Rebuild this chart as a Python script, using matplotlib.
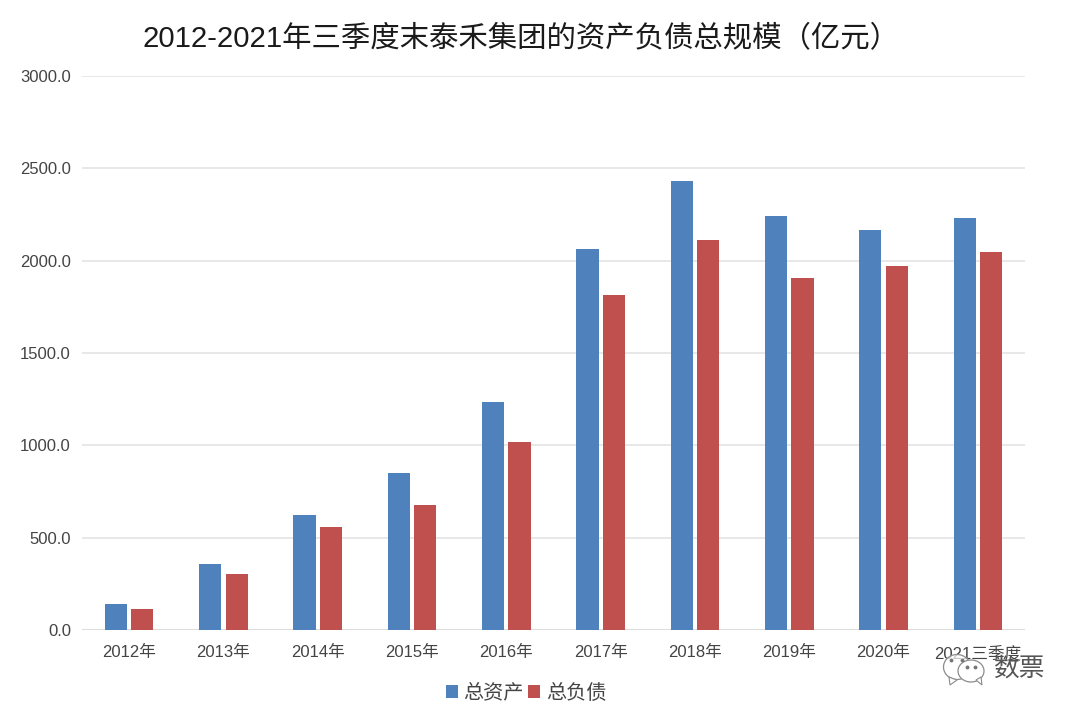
import numpy as np
import matplotlib
matplotlib.use("Agg")
import matplotlib.pyplot as plt
from matplotlib.patches import Ellipse, Polygon

plt.rcParams["font.family"] = ["Liberation Sans", "Noto Sans CJK SC", "DejaVu Sans"]

years = ["2012年", "2013年", "2014年", "2015年", "2016年", "2017年",
         "2018年", "2019年", "2020年", "2021三季度"]
total_assets = [141, 357, 623, 850, 1235, 2063, 2431, 2242, 2166, 2231]
total_debt = [112, 303, 558, 677, 1018, 1814, 2112, 1906, 1971, 2047]
y_ticks = [0, 500, 1000, 1500, 2000, 2500, 3000]

W, H = 1080, 716
fig = plt.figure(figsize=(W / 100, H / 100), dpi=100)
ax = fig.add_axes([82 / W, 1 - 630 / H, (1025 - 82) / W, (630 - 76) / H])

x = np.arange(len(years))
ax.bar(x - 0.14, total_assets, 0.235, color="#4f81bd", label="总资产", zorder=3)
ax.bar(x + 0.14, total_debt, 0.235, color="#c0504d", label="总负债", zorder=3)

ax.set_xlim(-0.5, 9.5)
ax.set_ylim(0, 3000)
ax.set_yticks(y_ticks)
ax.set_yticklabels([f"{v:.1f}" for v in y_ticks])
ax.set_xticks(x)
ax.set_xticklabels(years)
ax.tick_params(axis="both", length=0, labelsize=12, labelcolor="#444444")
ax.tick_params(axis="x", pad=11)
ax.tick_params(axis="y", pad=8)
ax.grid(axis="y", color="#e6e6e6", linewidth=1.3, zorder=0)
for s in ax.spines.values():
    s.set_visible(False)
ax.set_axisbelow(True)
ax.axhline(0, color="#dddddd", linewidth=1.5, zorder=1)

fig.text(143 / W, 1 - 39 / H, "2012-2021年三季度末泰禾集团的资产负债总规模（亿元）",
         ha="left", va="center", fontsize=21.2, color="#1a1a1a")

fig.legend(loc="center", bbox_to_anchor=(526 / W, 1 - 693 / H), ncol=2, frameon=False,
           fontsize=14.5, labelcolor="#444444", handlelength=0.58, handleheight=0.58,
           handletextpad=0.3, columnspacing=0.2)

# watermark
overlay = fig.add_axes([0, 0, 1, 1], facecolor="none")
overlay.set_xlim(0, W)
overlay.set_ylim(H, 0)
overlay.axis("off")
overlay.add_patch(Ellipse((957, 667), 27, 25, fc=(1, 1, 1, 0.7), ec="#8c8c8c", lw=0.9))
overlay.add_patch(Polygon([(949, 677), (950, 685), (957, 680)], closed=True,
                          fc=(1, 1, 1, 0.8), ec="#8c8c8c", lw=0.8))
overlay.add_patch(Ellipse((971, 671), 26, 22, fc="white", ec="#8c8c8c", lw=0.9))
overlay.add_patch(Polygon([(976, 680), (982, 685), (981, 677)], closed=True,
                          fc="white", ec="#8c8c8c", lw=0.8))
overlay.plot([951, 962, 967, 975], [660, 660, 667, 667], ls="none", marker="o",
             ms=1.8, color="#777777")
overlay.text(1019, 669, "数票", ha="center", va="center", fontsize=18.5, color="#555555")

fig.savefig("out.png", dpi=100)
